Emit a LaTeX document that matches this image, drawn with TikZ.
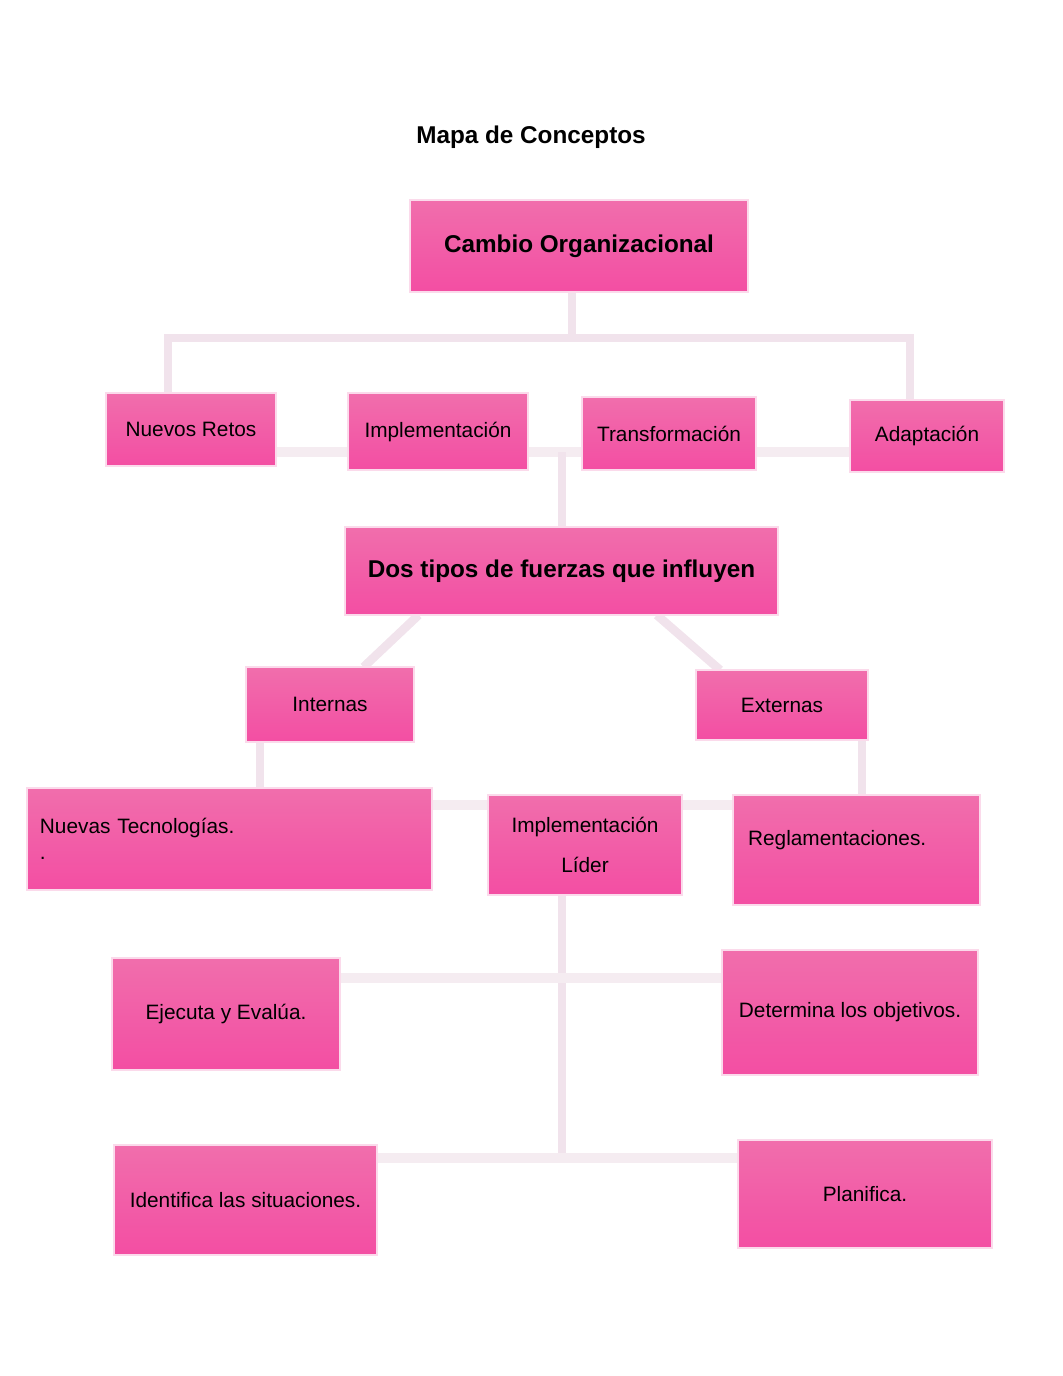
\documentclass[tikz,border=0pt]{standalone}
\usepackage{fontspec}
\setmainfont{Liberation Sans}
\usetikzlibrary{calc,backgrounds}

\definecolor{boxtop}{RGB}{241,110,172}
\definecolor{boxbot}{RGB}{243,78,163}
\definecolor{boxrim}{RGB}{251,218,235}
\definecolor{linkcol}{RGB}{241,227,236}
\definecolor{flatcol}{RGB}{245,236,241}

\begin{document}
\begin{tikzpicture}[x=0.5764pt,y=-0.5764pt,
  every node/.style={inner sep=0pt, outer sep=0pt, font=\fontsize{12}{14}\selectfont},
  sz/.style 2 args={minimum width=#1*0.5764pt, minimum height=#2*0.5764pt},
  box/.style={top color=boxtop, bottom color=boxbot, draw=boxrim, line width=1.5pt, align=center},
  bigbox/.style={box, font=\fontsize{14}{17}\selectfont\bfseries},
  link/.style={draw=linkcol, line width=5pt},
  flatlink/.style={draw=flatcol, line width=6pt}]

\useasboundingbox (0,0) rectangle (1062,1376);

\node[font=\fontsize{14}{17}\selectfont\bfseries] (titulo) at (531,137) {Mapa de Conceptos};

\node[bigbox, sz={338}{92}] (cambio) at (579,246) {Cambio Organizacional};
\node[box, sz={170}{73}] (retos) at (191,429.5) {Nuevos Retos};
\node[box, sz={180}{77}] (impl) at (438,431.5) {Implementación};
\node[box, sz={174}{73}] (transf) at (669,433.5) {Transformación};
\node[box, sz={154}{72}] (adapt) at (927,436) {Adaptación};
\node[bigbox, sz={433}{88}] (dos) at (561.5,571) {Dos tipos de fuerzas que influyen};
\node[box, sz={168}{75}] (internas) at (330,704.5) {Internas};
\node[box, sz={172}{70}] (externas) at (782,705) {Externas};
\node[box, sz={405}{102}, align=left, text width=218.5pt, inner xsep=7.5pt] (tecno) at (229.5,839) {Nuevas Tecnologías.\\[1pt].};
\node[box, sz={194}{100}] (lider) at (585,845) {Implementación\\[9pt]Líder};
\node[box, sz={247}{110}, align=left, text width=125pt, inner xsep=8.6pt] (regla) at (856.5,850) {Reglamentaciones.\\\mbox{}};
\node[box, sz={228}{112}] (ejecuta) at (226,1014) {Ejecuta y Evalúa.};
\node[box, sz={256}{125}] (determina) at (850,1012.5) {Determina los objetivos.};
\node[box, sz={263}{110}] (identifica) at (245.5,1200) {Identifica las situaciones.};
\node[box, sz={254}{108}] (planifica) at (865,1194) {Planifica.};

\begin{pgfonlayer}{background}
% arriba
\coordinate (busa) at (572,338);
\coordinate (busl) at (168,338);
\coordinate (busr) at (910,338);
\draw[link] (cambio.south -| busa) -- (busa);
\draw[link] (retos.north -| busl) -- (busl) -- (busr) -- (adapt.north -| busr);
\coordinate (busb) at (562,452);
\draw[flatlink] (retos.east |- busb) -- (impl.west |- busb);
\draw[flatlink] (impl.east |- busb) -- (transf.west |- busb);
\draw[flatlink] (transf.east |- busb) -- (adapt.west |- busb);
\draw[link] (busb) -- (dos.north -| busb);
% fuerzas
\draw[link] ($(dos.south west)!.17!(dos.south east)$) -- ($(internas.north west)!.7!(internas.north east)$);
\draw[link] ($(dos.south west)!.72!(dos.south east)$) -- ($(externas.north west)!.14!(externas.north east)$);
\coordinate (busc) at (260,765);
\coordinate (busd) at (862,765);
\draw[link] (internas.south -| busc) -- (tecno.north -| busc);
\draw[link] (externas.south -| busd) -- (regla.north -| busd);
\coordinate (buse) at (585,805);
\draw[flatlink] (tecno.east |- buse) -- (lider.west |- buse);
\draw[flatlink] (lider.east |- buse) -- (regla.west |- buse);
% lider
\coordinate (busf) at (562,978);
\coordinate (busg) at (562,1158);
\draw[link] (lider.south -| busg) -- (busg);
\draw[flatlink] (ejecuta.east |- busf) -- (determina.west |- busf);
\draw[flatlink] (identifica.east |- busg) -- (planifica.west |- busg);
\end{pgfonlayer}
\end{tikzpicture}
\end{document}
